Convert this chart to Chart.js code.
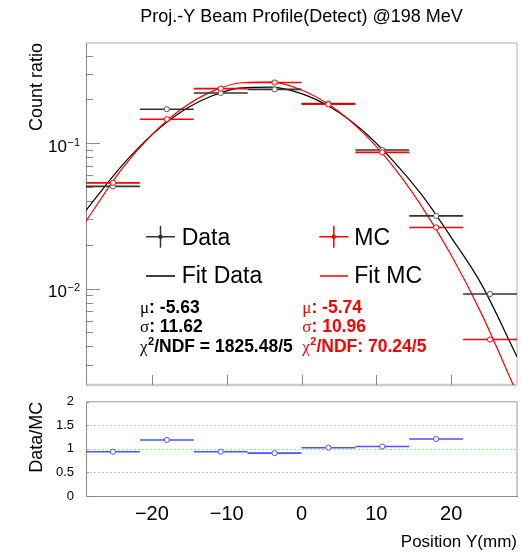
<!DOCTYPE html>
<html><head><meta charset="utf-8">
<script src="https://cdn.jsdelivr.net/npm/chart.js@4/dist/chart.umd.min.js"></script>
<style>
html,body{margin:0;padding:0;background:#fff;}
#wrap{position:relative;width:522px;height:554px;overflow:hidden;}
#c1{position:absolute;left:0;top:0;}
#c2{position:absolute;left:0;top:390px;}
</style></head><body>
<div id="wrap"><canvas id="c1" width="522" height="390"></canvas><canvas id="c2" width="522" height="164"></canvas></div>
<script>
// ---- data ----
const binEdges = [-28.8, -21.6, -14.4, -7.2, 0, 7.2, 14.4, 21.6, 28.8];
const binCenters = [-25.2, -18, -10.8, -3.6, 3.6, 10.8, 18, 25.2];
const dataValues = [0.0504, 0.171, 0.221, 0.234, 0.187, 0.0896, 0.0316, 0.00917];
const mcValues   = [0.0533, 0.146, 0.237, 0.261, 0.185, 0.0864, 0.0263, 0.00446];
const ratioValues = [0.94, 1.19, 0.94, 0.91, 1.025, 1.05, 1.21, null];
const fitX    = [-28.8, -24, -20, -16, -12, -8, -4, 0, 4, 8, 12, 16, 20, 24, 28.8];
const fitData = [0.0345, 0.0700, 0.114, 0.165, 0.211, 0.240, 0.243, 0.219, 0.175, 0.124, 0.078, 0.0445, 0.0225, 0.0108, 0.0034];
const fitMC   = [0.0291, 0.0664, 0.114, 0.172, 0.226, 0.260, 0.263, 0.232, 0.179, 0.121, 0.0718, 0.0372, 0.0170, 0.0068, 0.0019];
const xTicks = [-20, -10, 0, 10, 20];
const yMajorTicks = [0.01, 0.1];
const yMajorBase = ['10', '10'];
const yMajorExp = ['\u22122', '\u22121'];
const ratioTicks = [0, 0.5, 1, 1.5, 2];
const legendLabels = ['Data', 'MC', 'Fit Data', 'Fit MC'];
const statSymbols = ['\u03bc', '\u03c3', '\u03c7'];
const statsDataText = [': -5.63', ': 11.62', '/NDF = 1825.48/5'];
const statsMCText = [': -5.74', ': 10.96', '/NDF: 70.24/5'];
const titleText = 'Proj.-Y Beam Profile(Detect) @198 MeV';

Chart.defaults.font.family = 'Liberation Sans';

function segs(vals) {
  const out = [];
  vals.forEach((v, i) => {
    if (v === null) return;
    out.push({x: binEdges[i], y: v}, {x: binEdges[i + 1], y: v}, {x: binEdges[i + 1], y: null});
  });
  return out;
}
function pts(vals) {
  return vals.map((v, i) => ({x: binCenters[i], y: v})).filter(p => p.y !== null);
}
const fmtX = v => v < 0 ? '\u2212' + Math.abs(v) : String(v);

// ---- upper panel ----
const upperPlugin = {
  id: 'upper',
  beforeDatasetsDraw(chart) {
    const ctx = chart.ctx, a = chart.chartArea, xs = chart.scales.x, ys = chart.scales.y;
    ctx.save();
    ctx.strokeStyle = '#cccccc'; ctx.lineWidth = 1.5;
    ctx.beginPath(); ctx.moveTo(a.left, a.top); ctx.lineTo(a.right, a.top); ctx.lineTo(a.right, a.bottom); ctx.stroke();
    ctx.lineWidth = 2.5; ctx.beginPath(); ctx.moveTo(a.left, a.bottom); ctx.lineTo(a.right, a.bottom); ctx.stroke();
    ctx.strokeStyle = '#888'; ctx.lineWidth = 1;
    ctx.beginPath(); ctx.moveTo(a.left + 0.5, a.top); ctx.lineTo(a.left + 0.5, a.bottom); ctx.stroke();
    // y ticks
    for (let d = -3; d <= -1; d++) {
      for (let m = 1; m <= 9; m++) {
        const v = m * Math.pow(10, d);
        if (v < ys.min || v > ys.max) continue;
        const y = Math.round(ys.getPixelForValue(v)) + 0.5;
        ctx.beginPath(); ctx.moveTo(a.left, y); ctx.lineTo(a.left + (m === 1 ? 14 : 7), y); ctx.stroke();
      }
    }
    xTicks.forEach(t => {
      const x = Math.round(xs.getPixelForValue(t)) + 0.5;
      ctx.beginPath(); ctx.moveTo(x, a.bottom); ctx.lineTo(x, a.bottom - 10); ctx.stroke();
    });
    ctx.restore();
  },
  afterDraw(chart) {
    const ctx = chart.ctx, a = chart.chartArea, ys = chart.scales.y;
    ctx.save();
    ctx.fillStyle = '#000'; ctx.textBaseline = 'alphabetic'; ctx.textAlign = 'right';
    yMajorTicks.forEach((v, i) => {
      const y = ys.getPixelForValue(v);
      ctx.font = '11px Liberation Sans';
      const w = ctx.measureText(yMajorExp[i]).width;
      ctx.fillText(yMajorExp[i], a.left - 6, y + 2.4);
      ctx.font = '17px Liberation Sans';
      ctx.fillText(yMajorBase[i], a.left - 6 - w - 0.5, y + 8.4);
    });
    // legend
    ctx.textAlign = 'left';
    ctx.lineWidth = 1.5;
    const sym = (cx, cy, col) => {
      ctx.strokeStyle = col; ctx.fillStyle = col;
      ctx.beginPath(); ctx.moveTo(cx - 14.5, cy); ctx.lineTo(cx + 14.5, cy);
      ctx.moveTo(cx, cy - 11); ctx.lineTo(cx, cy + 11); ctx.stroke();
      ctx.beginPath(); ctx.arc(cx, cy, 2.2, 0, Math.PI * 2); ctx.fill();
    };
    const ln = (x1, x2, y, col) => {
      ctx.strokeStyle = col; ctx.beginPath(); ctx.moveTo(x1, y); ctx.lineTo(x2, y); ctx.stroke();
    };
    sym(160.5, 236.7, '#333'); sym(333.8, 236.7, '#ff0000');
    ln(146, 175, 276, '#000'); ln(320, 348, 276, '#ff0000');
    ctx.font = '23px Liberation Sans'; ctx.fillStyle = '#000';
    ctx.fillText(legendLabels[0], 181.7, 245);
    ctx.fillText(legendLabels[1], 354.3, 245);
    ctx.fillText(legendLabels[2], 181.7, 282.7);
    ctx.fillText(legendLabels[3], 354.3, 282.7);
    // stats
    const baselines = [313, 332.3, 351.7];
    const drawStat = (x0, i, txt, col) => {
      let x = x0;
      ctx.fillStyle = col;
      ctx.font = '17px Liberation Serif';
      ctx.fillText(statSymbols[i], x, baselines[i]);
      x += ctx.measureText(statSymbols[i]).width;
      if (i === 2) {
        ctx.font = 'bold 11px Liberation Sans';
        ctx.fillText('2', x + 0.5, baselines[i] - 7);
        x += ctx.measureText('2').width + 0.5;
      }
      ctx.font = 'bold 17.5px Liberation Sans';
      ctx.fillText(txt, x, baselines[i]);
    };
    for (let i = 0; i < 3; i++) {
      drawStat(140, i, statsDataText[i], '#000');
      drawStat(302.3, i, statsMCText[i], '#ff0000');
    }
    ctx.restore();
  }
};

new Chart(document.getElementById('c1'), {
  type: 'line',
  data: {
    datasets: [
      {label: 'Fit Data', data: fitX.map((x, i) => ({x, y: fitData[i]})), borderColor: '#000', borderWidth: 1.2, pointRadius: 0, cubicInterpolationMode: 'monotone', order: 5},
      {label: 'Fit MC', data: fitX.map((x, i) => ({x, y: fitMC[i]})), borderColor: '#ff0000', borderWidth: 1.2, pointRadius: 0, cubicInterpolationMode: 'monotone', order: 4},
      {label: 'Data err', data: segs(dataValues), borderColor: '#333', borderWidth: 1.6, pointRadius: 0, spanGaps: false, order: 3},
      {label: 'MC err', data: segs(mcValues), borderColor: '#ff0000', borderWidth: 1.6, pointRadius: 0, spanGaps: false, order: 2},
      {type: 'scatter', label: 'Data', data: pts(dataValues), pointRadius: 2.6, pointBorderColor: '#555', pointBackgroundColor: '#fff', pointBorderWidth: 1, order: 1},
      {type: 'scatter', label: 'MC', data: pts(mcValues), pointRadius: 2.6, pointBorderColor: '#ff0000', pointBackgroundColor: '#fff', pointBorderWidth: 1, order: 0}
    ]
  },
  options: {
    animation: false, responsive: false, devicePixelRatio: 1,
    events: [],
    plugins: {
      legend: {display: false}, tooltip: {enabled: false},
      title: {display: true, fullSize: false, text: titleText, color: '#000',
        font: {family: 'Liberation Sans', size: 18, weight: 'normal', lineHeight: 1.2}, padding: {top: 6.4, bottom: 15}}
    },
    layout: {padding: {top: 0, right: 3, bottom: 2, left: 0}},
    scales: {
      x: {type: 'linear', min: binEdges[0], max: binEdges[binEdges.length - 1], display: false},
      y: {type: 'logarithmic', min: 0.00217, max: 0.488,
        afterFit: s => { s.width = 86; },
        ticks: {display: false}, grid: {display: false}, border: {display: false},
        title: {display: true, text: 'Count ratio', align: 'end', color: '#000',
          font: {family: 'Liberation Sans', size: 18, lineHeight: 1.2}, padding: {top: 26, bottom: 0}}}
    }
  },
  plugins: [upperPlugin]
});

// ---- ratio panel ----
const lowerPlugin = {
  id: 'lower',
  beforeDatasetsDraw(chart) {
    const ctx = chart.ctx, a = chart.chartArea, ys = chart.scales.y;
    ctx.save();
    ctx.strokeStyle = '#bbbbbb'; ctx.lineWidth = 1.5;
    ctx.beginPath(); ctx.moveTo(a.left, a.top); ctx.lineTo(a.right, a.top); ctx.lineTo(a.right, a.bottom); ctx.stroke();
    ctx.lineWidth = 1; ctx.setLineDash([2, 2]);
    [0.5, 1.5].forEach(v => {
      const y = Math.round(ys.getPixelForValue(v)) + 0.5;
      ctx.strokeStyle = '#c4c4c4';
      ctx.beginPath(); ctx.moveTo(a.left, y); ctx.lineTo(a.right, y); ctx.stroke();
    });
    const y1 = Math.round(ys.getPixelForValue(1)) + 0.5;
    ctx.strokeStyle = '#88ee88';
    ctx.beginPath(); ctx.moveTo(a.left, y1); ctx.lineTo(a.right, y1); ctx.stroke();
    ctx.setLineDash([]);
    ctx.strokeStyle = '#999';
    ratioTicks.forEach(v => {
      const y = Math.round(ys.getPixelForValue(v)) + 0.5;
      ctx.beginPath(); ctx.moveTo(a.left, y); ctx.lineTo(a.left + 3, y); ctx.stroke();
    });
    ctx.restore();
  }
};

new Chart(document.getElementById('c2'), {
  type: 'line',
  data: {
    datasets: [
      {label: 'ratio err', data: segs(ratioValues), borderColor: '#5050ff', borderWidth: 1.6, pointRadius: 0, spanGaps: false, order: 1},
      {type: 'scatter', label: 'Data/MC', data: pts(ratioValues), pointRadius: 2.6, pointBorderColor: '#5050ff', pointBackgroundColor: '#fff', pointBorderWidth: 1, order: 0}
    ]
  },
  options: {
    animation: false, responsive: false, devicePixelRatio: 1,
    events: [],
    plugins: {legend: {display: false}, tooltip: {enabled: false}},
    layout: {padding: {top: 2, right: 3, bottom: 0, left: 0}},
    scales: {
      x: {type: 'linear', min: binEdges[0], max: binEdges[binEdges.length - 1],
        afterBuildTicks: s => { s.ticks = xTicks.map(v => ({value: v})); },
        afterFit: s => { s.height = 58; },
        ticks: {font: {family: 'Liberation Sans', size: 20}, color: '#000', padding: -2, callback: v => fmtX(v), maxRotation: 0, autoSkip: false},
        grid: {display: false}, border: {display: true, color: '#888'},
        title: {display: true, text: 'Position Y(mm)', align: 'end', color: '#000',
          font: {family: 'Liberation Sans', size: 17, lineHeight: 1.2}, padding: {top: 0, bottom: 1}}},
      y: {min: 0, max: 2,
        afterBuildTicks: s => { s.ticks = ratioTicks.map(v => ({value: v})); },
        afterFit: s => { s.width = 86; },
        ticks: {font: {family: 'Liberation Sans', size: 13}, color: '#000', padding: 4, callback: v => String(v)},
        grid: {display: false}, border: {display: true, color: '#888'},
        title: {display: true, text: 'Data/MC', align: 'end', color: '#000',
          font: {family: 'Liberation Sans', size: 18, lineHeight: 1.2}, padding: {top: 26, bottom: 0}}}
    }
  },
  plugins: [lowerPlugin]
});
</script>
</body></html>
